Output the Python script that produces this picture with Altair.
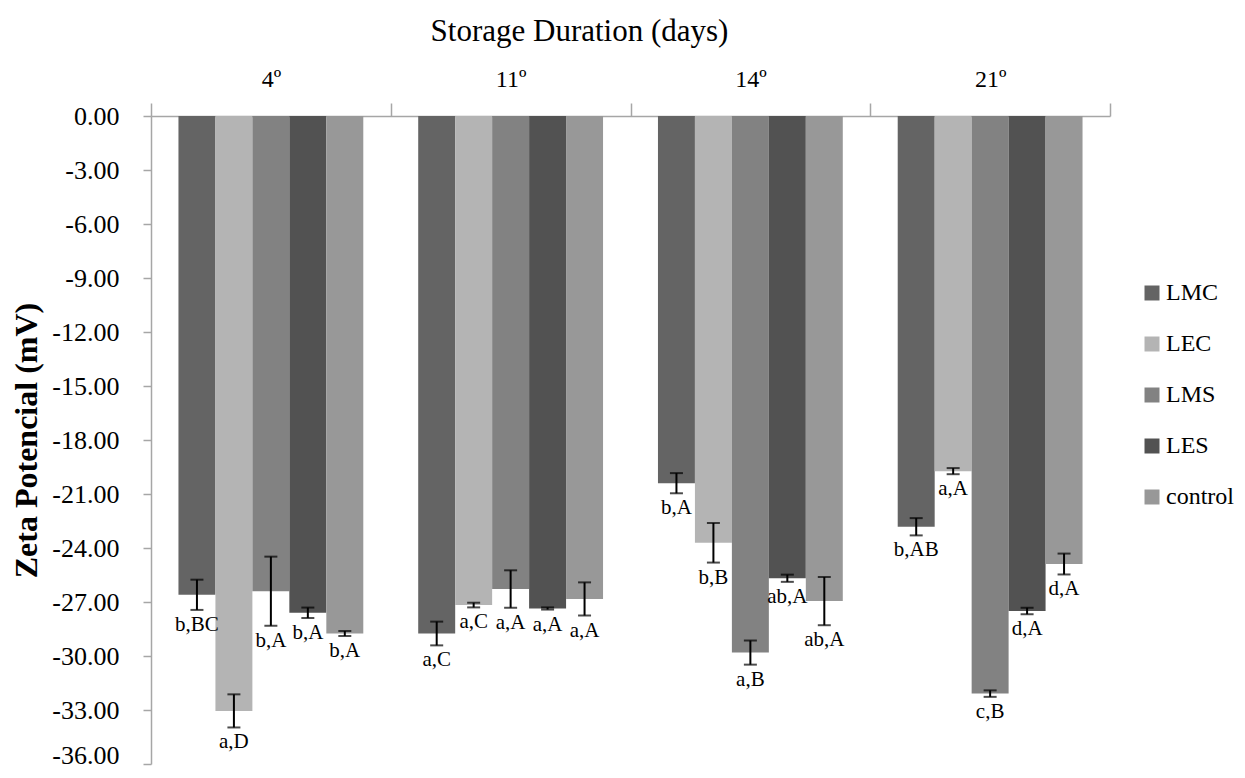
import altair as alt
import pandas as pd

days = ["4º", "11º", "14º", "21º"]
treatments = ["LMC", "LEC", "LMS", "LES", "control"]
colors = ["#646464", "#b4b4b4", "#828282", "#525252", "#989898"]

means = {
    "4º": [-26.60, -33.05, -26.40, -27.60, -28.75],
    "11º": [-28.75, -27.17, -26.28, -27.36, -26.83],
    "14º": [-20.40, -23.71, -29.81, -25.68, -26.95],
    "21º": [-22.82, -19.73, -32.09, -27.50, -24.89],
}
errors = {
    "4º": [0.84, 0.92, 1.92, 0.29, 0.14],
    "11º": [0.66, 0.13, 1.04, 0.06, 0.92],
    "14º": [0.56, 1.10, 0.67, 0.20, 1.34],
    "21º": [0.48, 0.17, 0.18, 0.18, 0.58],
}
letters = {
    "4º": ["b,BC", "a,D", "b,A", "b,A", "b,A"],
    "11º": ["a,C", "a,C", "a,A", "a,A", "a,A"],
    "14º": ["b,A", "b,B", "a,B", "ab,A", "ab,A"],
    "21º": ["b,AB", "a,A", "c,B", "d,A", "d,A"],
}

rows = []
for d in days:
    for i, t in enumerate(treatments):
        rows.append({"day": d, "treatment": t, "value": means[d][i],
                     "err": errors[d][i], "label": letters[d][i]})
df = pd.DataFrame(rows)

FONT = "Liberation Serif, Times New Roman, Tinos, DejaVu Serif, serif"

x = alt.X("day:N", sort=days,
          scale=alt.Scale(paddingInner=0, paddingOuter=0),
          axis=alt.Axis(orient="top", title="Storage Duration (days)",
                        tickBand="extent", tickSize=13, labelPadding=12,
                        labelFontSize=24, labelFont=FONT, labelColor="#000",
                        titleFont=FONT, titleFontSize=31, titleFontWeight="normal",
                        titlePadding=20, titleColor="#000", titleX=428,
                        domainColor="#a6a6a6", tickColor="#a6a6a6",
                        domainWidth=1.5, tickWidth=1.5, labelAngle=0))
xo = alt.XOffset("treatment:N", sort=treatments,
                 scale=alt.Scale(paddingInner=0, paddingOuter=0.743))

base = alt.Chart(df)

bars = base.mark_bar().encode(
    x=x, xOffset=xo,
    y=alt.Y("value:Q", scale=alt.Scale(domain=[-36, 0], nice=False),
            axis=alt.Axis(values=list(range(0, -37, -3)),
                          labelExpr="replace(format(datum.value, '.2f'), '\u2212', '-')",
                          labelBaseline={"condition": {"test": "datum.value <= -35.9",
                                                       "value": "alphabetic"},
                                         "value": "middle"},
                          labelOffset={"condition": {"test": "datum.value <= -35.9",
                                                     "value": -1},
                                       "value": 0},
                          title="Zeta Potencial (mV)", grid=False,
                          tickSize=8, labelPadding=24,
                          labelFontSize=26, labelFont=FONT, labelColor="#000",
                          titleFont=FONT, titleFontSize=32, titleFontWeight="bold",
                          titleColor="#000", titlePadding=8,
                          domainColor="#a6a6a6", tickColor="#a6a6a6",
                          domainWidth=1.5, tickWidth=1.5)),
    color=alt.Color("treatment:N", sort=treatments,
                    scale=alt.Scale(domain=treatments, range=colors),
                    legend=alt.Legend(title=None, orient="none", legendX=989, legendY=165,
                                      symbolType="square", symbolSize=225,
                                      symbolStrokeWidth=0,
                                      labelFont=FONT, labelFontSize=24, labelColor="#000",
                                      rowPadding=27, labelOffset=2)),
)

err_rule = base.transform_calculate(
    lo="datum.value - datum.err", hi="datum.value + datum.err"
).mark_rule(color="black", strokeWidth=2).encode(
    x=x, xOffset=xo, y="lo:Q", y2="hi:Q")

cap_lo = base.transform_calculate(lo="datum.value - datum.err").mark_tick(
    color="black", thickness=2, size=13).encode(x=x, xOffset=xo, y="lo:Q")
cap_hi = base.transform_calculate(hi="datum.value + datum.err").mark_tick(
    color="black", thickness=2, size=13).encode(x=x, xOffset=xo, y="hi:Q")

labels = base.transform_calculate(lo="datum.value - datum.err").mark_text(
    font=FONT, fontSize=21, color="black", baseline="top", dy=4).encode(
    x=x, xOffset=xo, y="lo:Q", text="label:N")

chart = alt.layer(bars, err_rule, cap_lo, cap_hi, labels).properties(
    width=959, height=648,
    autosize=alt.AutoSizeParams(type="none"),
    padding={"left": 143, "top": 108, "right": 127, "bottom": 6}
).configure_view(stroke=None)

chart.save("out.html", embed_options={"renderer": "svg", "actions": False})
